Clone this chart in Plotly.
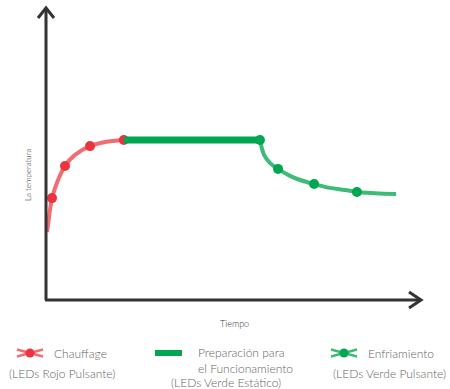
import plotly.graph_objects as go

# heating phase (red, pulsing)
heat_t = [0.27, 0.53, 1.06, 1.6, 2.9, 5.05, 7.7, 11.7, 15.7, 20.7]
heat_temp = [23.3, 25.7, 30.8, 34.9, 40.1, 45.9, 49.7, 52.7, 54.1, 54.8]
heat_dot_t = [1.6, 5.05, 11.7, 20.7]
heat_dot_temp = [34.9, 45.9, 52.7, 54.8]

# steady phase (green, static)
ready_t = [20.7, 56.9]
ready_temp = [54.8, 54.8]

# cooling phase (green, pulsing)
cool_t = [56.9, 58.0, 59.6, 61.7, 64.9, 67.6, 71.3, 75.5, 79.5, 82.7, 87.5, 93.1]
cool_temp = [54.8, 49.7, 46.9, 44.9, 42.5, 41.1, 39.7, 38.4, 37.7, 37.0, 36.6, 36.3]
cool_dot_t = [56.9, 61.7, 71.3, 82.7]
cool_dot_temp = [54.8, 44.9, 39.7, 37.0]

RED = '#EE3340'
RED_LINE = '#F26D72'
GREEN = '#00A651'
GREEN_LINE = '#3DBB78'
AXIS = '#333333'
TEXT = '#666666'
FONT = 'Lato'

W, H = 450, 389
L, R, T, B = 46, 28, 8, 89
PW, PH = W - L - R, H - T - B


def px(x):
    return (x - L) / PW


def py(y):
    return (H - B - y) / PH


fig = go.Figure()

fig.add_trace(go.Scatter(x=heat_t, y=heat_temp, mode='lines', line=dict(color=RED_LINE, width=4, shape='spline'),
                         hoverinfo='skip'))
fig.add_trace(go.Scatter(x=heat_dot_t, y=heat_dot_temp, mode='markers', marker=dict(color=RED, size=10)))
fig.add_trace(go.Scatter(x=cool_t, y=cool_temp, mode='lines', line=dict(color=GREEN_LINE, width=4, shape='spline'),
                         hoverinfo='skip'))
fig.add_trace(go.Scatter(x=ready_t, y=ready_temp, mode='lines', line=dict(color=GREEN, width=7)))
fig.add_trace(go.Scatter(x=cool_dot_t, y=cool_dot_temp, mode='markers', marker=dict(color=GREEN, size=10)))

shapes = []
# axes with open arrow heads
shapes.append(dict(type='line', xref='paper', yref='paper', x0=px(46), y0=py(300), x1=px(46), y1=py(9),
                   line=dict(color=AXIS, width=3)))
shapes.append(dict(type='line', xref='paper', yref='paper', x0=px(45), y0=py(300), x1=px(421), y1=py(300),
                   line=dict(color=AXIS, width=3)))
shapes.append(dict(type='path', xref='paper', yref='paper',
                   path=f'M {px(38)},{py(18)} L {px(46)},{py(8)} L {px(54)},{py(18)}',
                   line=dict(color=AXIS, width=3)))
shapes.append(dict(type='path', xref='paper', yref='paper',
                   path=f'M {px(409)},{py(292)} L {px(421)},{py(300)} L {px(409)},{py(308)}',
                   line=dict(color=AXIS, width=3)))

# legend icons
for cx, cy, lc, dc in [(30, 353, RED_LINE, RED), (344, 353, GREEN_LINE, GREEN)]:
    shapes.append(dict(type='line', xref='paper', yref='paper', x0=px(cx - 13), y0=py(cy - 3.5),
                       x1=px(cx + 13), y1=py(cy + 3.5), line=dict(color=lc, width=2.5)))
    shapes.append(dict(type='line', xref='paper', yref='paper', x0=px(cx - 13), y0=py(cy + 3.5),
                       x1=px(cx + 13), y1=py(cy - 3.5), line=dict(color=lc, width=2.5)))
    shapes.append(dict(type='circle', xref='paper', yref='paper', x0=px(cx - 4.5), y0=py(cy + 4.5),
                       x1=px(cx + 4.5), y1=py(cy - 4.5), fillcolor=dc, line=dict(width=0)))
shapes.append(dict(type='rect', xref='paper', yref='paper', x0=px(155), y0=py(356), x1=px(182), y1=py(350),
                   fillcolor=GREEN, line=dict(width=0)))


def txt(x, y, s, size=12, xanchor='left', color=TEXT, angle=0, weight=300):
    return dict(x=px(x), y=py(y), xref='paper', yref='paper', text=s, showarrow=False, xanchor=xanchor,
                yanchor='middle', align='left', textangle=angle, borderpad=0,
                font=dict(family=FONT, size=size, color=color, weight=weight))


annotations = [
    txt(28, 175, 'La temperatura', size=8, xanchor='center', color='#222222', angle=-90),
    txt(234, 323, 'Tiempo', size=9, xanchor='center', color='#333333'),
    txt(53, 353, 'Chauffage'),
    txt(62, 373, '(LEDs Rojo Pulsante)', xanchor='center'),
    txt(197, 360.5, 'Preparación para<br>el Funcionamiento'),
    txt(226, 382, '(LEDs Verde Estático)', xanchor='center'),
    txt(367, 353, 'Enfriamiento'),
    txt(389, 373, '(LEDs Verde Pulsante)', xanchor='center'),
]

fig.update_layout(
    width=W, height=H,
    margin=dict(l=L, r=R, t=T, b=B),
    paper_bgcolor='white', plot_bgcolor='white',
    showlegend=False,
    xaxis=dict(range=[0, 100], visible=False, fixedrange=True),
    yaxis=dict(range=[0, 100], visible=False, fixedrange=True),
    shapes=shapes,
    annotations=annotations,
    font=dict(family=FONT),
)

fig.write_html("out.html", config={'displayModeBar': False},
               post_script="document.body.style.margin='0';document.body.style.overflow='hidden';")
